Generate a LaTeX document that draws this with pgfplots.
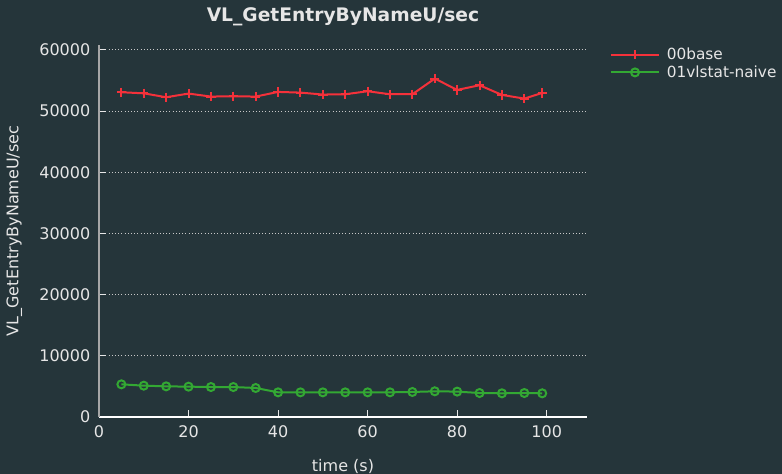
\documentclass[border=0pt]{standalone}
\usepackage{pgfplots}
\pgfplotsset{compat=1.18}
\usepackage{fontspec}
\setmainfont{DejaVu Sans}
\definecolor{bg}{HTML}{25353A}
\definecolor{txt}{HTML}{E6E6E6}
\definecolor{redl}{HTML}{F5313A}
\definecolor{greenl}{HTML}{33A833}
\definecolor{gridc}{HTML}{C8C8C8}
\begin{document}
\begin{tikzpicture}
\fill[bg] (0,0) rectangle (586.5pt,355.5pt);
\useasboundingbox (0,0) rectangle (586.5pt,355.5pt);
\begin{axis}[
  at={(74.25pt,42.75pt)}, anchor=south west,
  scale only axis, width=366pt, height=279pt,
  xmin=0, xmax=109, ymin=0, ymax=60800,
  axis x line=bottom, axis y line=left,
  x axis line style={-, white, line width=0.8pt},
  y axis line style={-, gray!70!white, line width=0.8pt},
  xtick={0,20,40,60,80,100},
  ytick={0,10000,20000,30000,40000,50000,60000},
  minor tick num=0,
  tick align=inside,
  major tick length=5pt,
  every tick/.style={txt, line width=0.6pt},
  ymajorgrids,
  grid style={gridc, dotted, line width=0.7pt},
  tick label style={txt, font=\fontsize{12pt}{14pt}\selectfont},
  yticklabel style={xshift=-3pt},
  xticklabel style={yshift=-3pt},
  /pgf/number format/assume math mode=true,
  /pgf/number format/1000 sep={},
  scaled y ticks=false,
  title={\textbf{VL\_GetEntryByNameU/sec}},
  title style={txt, font=\fontsize{14pt}{16pt}\selectfont, yshift=5pt},
  xlabel={time (s)},
  ylabel={VL\_GetEntryByNameU/sec},
  label style={txt, font=\fontsize{12pt}{14pt}\selectfont},
  xlabel style={yshift=-9pt},
  ylabel style={yshift=6pt},
  legend style={at={(1,1)}, anchor=north west, xshift=14pt, yshift=2pt,
    draw=none, fill=none, text=txt, font=\fontsize{11.5pt}{13.5pt}\selectfont,
    row sep=-1pt, column sep=3pt},
  legend cell align=left,
  legend image code/.code={
    \draw[mark repeat=2,mark phase=2] plot coordinates {(0cm,0cm) (0.635cm,0cm) (1.27cm,0cm)};
  },
]
\addplot[redl, line width=1.5pt, mark=+, mark size=3.5pt, mark options={line width=1.5pt}] coordinates {
(5,53080) (10,52900) (15,52260) (20,52860) (25,52370) (30,52420) (35,52370)
(40,53130) (45,53020) (50,52700) (55,52750) (60,53240) (65,52750) (70,52750)
(75,55310) (80,53460) (85,54220) (90,52640) (95,52040) (99,52970)
};
\addlegendentry{00base}
\addplot[greenl, line width=1.5pt, mark=o, mark size=3pt, mark options={line width=1.5pt}] coordinates {
(5,5340) (10,5120) (15,5010) (20,4960) (25,4900) (30,4900) (35,4740)
(40,4030) (45,4030) (50,4030) (55,4030) (60,4030) (65,4030) (70,4090)
(75,4200) (80,4150) (85,3920) (90,3870) (95,3920) (99,3870)
};
\addlegendentry{01vlstat-naive}
\end{axis}
\end{tikzpicture}
\end{document}
